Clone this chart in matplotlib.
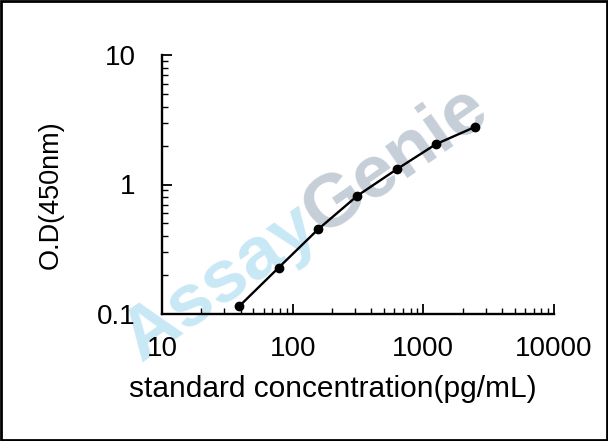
import numpy as np
import matplotlib
matplotlib.use("Agg")
import matplotlib.pyplot as plt
from matplotlib.patches import Rectangle
from matplotlib.textpath import TextPath
from matplotlib.font_manager import FontProperties
from matplotlib.ticker import LogLocator, FixedLocator, FixedFormatter, NullFormatter

concentration = [39.06, 78.13, 156.25, 312.5, 625, 1250, 2500]
od_450 = [0.115, 0.228, 0.45, 0.818, 1.31, 2.05, 2.79]
x_ticks = [10, 100, 1000, 10000]
x_tick_labels = ["10", "100", "1000", "10000"]
y_ticks = [0.1, 1, 10]
y_tick_labels = ["0.1", "1", "10"]

plt.rcParams['font.family'] = ['Liberation Sans', 'DejaVu Sans']

W, H = 608, 441
fig = plt.figure(figsize=(W/100, H/100), dpi=100)
ax = fig.add_axes([162/W, 1-314/H, (554-162)/W, (314-55)/H])

ax.set_xscale('log')
ax.set_yscale('log')
ax.set_xlim(10, 10000)
ax.set_ylim(0.1, 10)

# watermark "AssayGenie" (behind the curve)
wm_size = 54
fp = FontProperties(family='Liberation Sans', weight='bold', size=wm_size)
wA = TextPath((0, 0), "Assay", prop=fp).get_extents().width * 100/72
wG = TextPath((0, 0), "Genie", prop=fp).get_extents().width * 100/72
gap = 4
total = wA + wG + gap
ang = 35
u = np.array([np.cos(np.radians(ang)), np.sin(np.radians(ang))])
C = np.array([300, H - 218])
cA = C - u * (total/2 - wA/2)
cG = C + u * (total/2 - wG/2)
for word, c, col in [("Assay", cA, '#c8e8f6'), ("Genie", cG, '#c6ced8')]:
    ax.text(c[0]/W, c[1]/H, word, transform=fig.transFigure, fontproperties=fp, color=col,
            rotation=ang, rotation_mode='anchor', ha='center', va='center_baseline',
            zorder=0.5, clip_on=False)

ax.patch.set_alpha(0)
ax.plot(concentration, od_450, color='black', lw=1.7, marker='o', ms=6, zorder=3, clip_on=False)

for s in ['top', 'right']:
    ax.spines[s].set_visible(False)
for s in ['left', 'bottom']:
    ax.spines[s].set_linewidth(1.7)

ax.xaxis.set_major_locator(FixedLocator(x_ticks))
ax.xaxis.set_major_formatter(FixedFormatter(x_tick_labels))
ax.yaxis.set_major_locator(FixedLocator(y_ticks))
ax.yaxis.set_major_formatter(FixedFormatter(y_tick_labels))
ax.xaxis.set_minor_locator(LogLocator(base=10, subs=range(2, 10)))
ax.yaxis.set_minor_locator(LogLocator(base=10, subs=range(2, 10)))
ax.xaxis.set_minor_formatter(NullFormatter())
ax.yaxis.set_minor_formatter(NullFormatter())

ax.tick_params(which='major', direction='in', length=7, width=1.3, labelsize=20)
ax.tick_params(which='minor', direction='in', length=4, width=1.0)
ax.tick_params(axis='x', which='major', pad=16)
ax.tick_params(axis='y', which='major', pad=19)

ax.set_xlabel("standard concentration(pg/mL)", fontsize=21.5)
ax.set_ylabel("O.D(450nm)", fontsize=19.5)
ax.xaxis.set_label_coords((333-162)/392, -(389-314)/259)
ax.yaxis.set_label_coords(-(162-51)/392, (314-195)/259)
ax.xaxis.label.set_va('center')
ax.yaxis.label.set_va('center')

fig.patches.append(Rectangle((0.002, 0.003), 0.996, 0.994, transform=fig.transFigure,
                             fill=False, edgecolor='black', lw=2.0))

fig.savefig("out.png", dpi=100)
